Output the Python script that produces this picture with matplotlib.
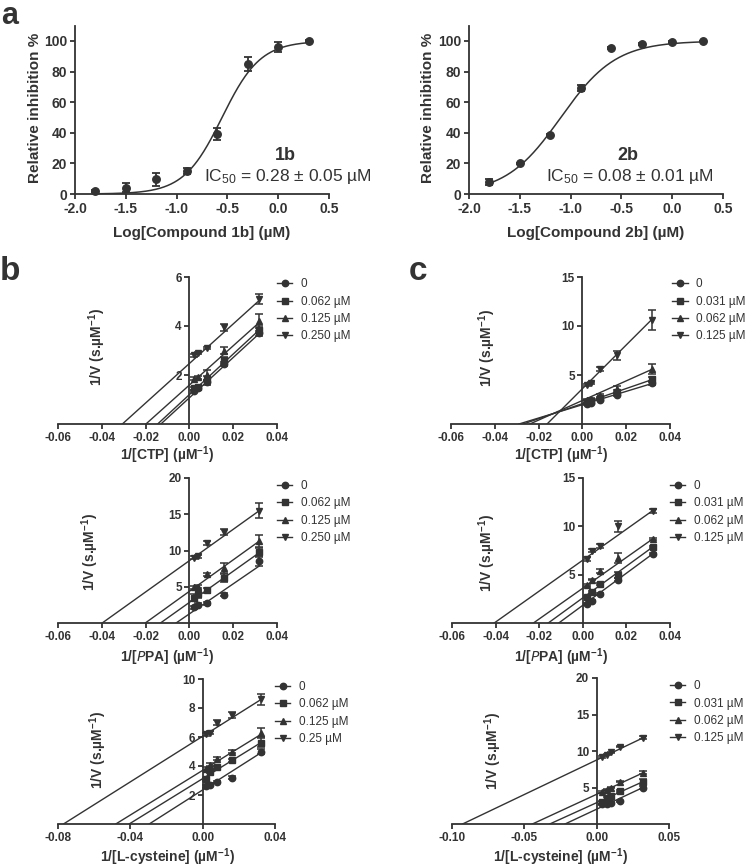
import numpy as np
import matplotlib
matplotlib.use('Agg')
import matplotlib.pyplot as plt
from matplotlib.lines import Line2D

plt.rcParams['font.family'] = ['Liberation Sans', 'DejaVu Sans']
plt.rcParams['mathtext.default'] = 'regular'
plt.rcParams['axes.unicode_minus'] = False
INK = '#333333'

# ---------------- data: panel a (dose-response) ----------------
log_conc = [-1.8, -1.5, -1.2, -0.9, -0.6, -0.3, 0.0, 0.3]
inh_1b = [2.0, 4.0, 9.5, 15.0, 39.0, 85.0, 96.0, 100.0]
err_1b = [0.5, 3.0, 4.0, 2.0, 4.0, 4.5, 3.5, 0.5]
inh_2b = [8.0, 20.0, 38.5, 69.0, 95.5, 98.0, 99.3, 100.0]
err_2b = [2.0, 0.5, 0.5, 2.0, 0.5, 0.5, 0.5, 0.3]
ic50_1b, hill_1b = 0.28, 2.3
ic50_2b, hill_2b = 0.08, 1.6

# ---------------- data: Lineweaver-Burk panels ----------------
inv_s = [0.002, 0.004, 0.008, 0.016, 0.032]
inv_s_cys2b = [0.004, 0.007, 0.010, 0.016, 0.032]
conc_1b = ['0', '0.062 \u00b5M', '0.125 \u00b5M', '0.250 \u00b5M']
conc_1b_cys = ['0', '0.062 \u00b5M', '0.125 \u00b5M', '0.25 \u00b5M']
conc_2b = ['0', '0.031 \u00b5M', '0.062 \u00b5M', '0.125 \u00b5M']

# 1b vs CTP
ctp1b_y = [[1.35, 1.45, 1.70, 2.45, 3.70],
           [1.45, 1.50, 1.85, 2.60, 3.85],
           [1.85, 1.90, 2.00, 3.00, 4.20],
           [2.80, 2.90, 3.10, 3.95, 5.10]]
ctp1b_e = [[0.05, 0.05, 0.10, 0.10, 0.10],
           [0.05, 0.05, 0.10, 0.15, 0.15],
           [0.05, 0.05, 0.20, 0.15, 0.30],
           [0.05, 0.05, 0.05, 0.15, 0.22]]
ctp1b_slope = [82.2, 82.8, 80.1, 80.7]
ctp1b_yint = [1.07, 1.20, 1.59, 2.47]

# 2b vs CTP
ctp2b_y = [[2.05, 2.10, 2.50, 3.00, 4.15],
           [2.20, 2.30, 2.70, 3.30, 4.55],
           [2.50, 2.60, 2.90, 3.60, 5.60],
           [4.00, 4.20, 5.60, 7.00, 10.60]]
ctp2b_e = [[0.10, 0.10, 0.10, 0.10, 0.15],
           [0.10, 0.10, 0.10, 0.15, 0.20],
           [0.10, 0.10, 0.20, 0.30, 0.50],
           [0.10, 0.10, 0.20, 0.50, 1.00]]
ctp2b_slope = [68.0, 77.0, 100.0, 223.0]
ctp2b_yint = [1.97, 2.08, 2.40, 3.60]

# 1b vs PPA
ppa1b_y = [[2.2, 2.5, 2.7, 3.9, 8.5],
           [3.5, 4.0, 4.5, 6.2, 9.8],
           [4.9, 5.0, 6.7, 7.6, 11.3],
           [9.0, 9.2, 11.0, 12.6, 15.5]]
ppa1b_e = [[0.2, 0.2, 0.2, 0.2, 0.6],
           [0.5, 0.5, 0.3, 0.5, 0.6],
           [0.2, 0.2, 0.2, 0.7, 0.8],
           [0.2, 0.2, 0.3, 0.4, 1.0]]
ppa1b_slope = [207.0, 215.0, 217.0, 216.0]
ppa1b_yint = [1.26, 2.84, 4.37, 8.60]

# 2b vs PPA
ppa2b_y = [[2.0, 2.3, 3.0, 4.5, 7.15],
           [2.7, 3.2, 4.0, 5.0, 7.9],
           [3.9, 4.5, 5.4, 6.7, 8.7],
           [6.6, 7.5, 8.0, 10.0, 11.6]]
ppa2b_e = [[0.1, 0.1, 0.1, 0.2, 0.1],
           [0.1, 0.1, 0.1, 0.3, 0.1],
           [0.1, 0.1, 0.2, 0.5, 0.1],
           [0.2, 0.2, 0.2, 0.6, 0.2]]
ppa2b_slope = [166.0, 164.0, 159.0, 160.0]
ppa2b_yint = [1.83, 2.60, 3.60, 6.50]

# 1b vs L-cysteine
cys1b_y = [[2.6, 2.7, 2.9, 3.2, 5.0],
           [3.1, 3.6, 3.9, 4.4, 5.6],
           [3.8, 4.1, 4.5, 5.0, 6.3],
           [6.2, 6.3, 7.0, 7.5, 8.6]]
cys1b_e = [[0.1, 0.1, 0.1, 0.1, 0.2],
           [0.1, 0.1, 0.1, 0.1, 0.3],
           [0.1, 0.1, 0.1, 0.1, 0.3],
           [0.1, 0.1, 0.15, 0.2, 0.4]]
cys1b_slope = [79.5, 77.0, 77.0, 78.6]
cys1b_yint = [2.35, 3.13, 3.70, 6.05]

# 2b vs L-cysteine
cys2b_y = [[2.7, 2.7, 2.9, 3.1, 5.0],
           [3.0, 3.5, 3.9, 4.5, 5.8],
           [4.4, 4.7, 5.0, 5.8, 7.0],
           [9.2, 9.5, 9.8, 10.6, 11.8]]
cys2b_e = [[0.1, 0.1, 0.1, 0.1, 0.2],
           [0.2, 0.2, 0.2, 0.1, 0.3],
           [0.1, 0.1, 0.1, 0.1, 0.2],
           [0.1, 0.1, 0.1, 0.1, 0.2]]
cys2b_slope = [92.8, 90.0, 91.6, 94.6]
cys2b_yint = [2.03, 2.92, 4.07, 8.77]

MARKERS = ['o', 's', '^', 'v']

# ---------------- layout helpers ----------------
W, H = 749, 868
fig = plt.figure(figsize=(W / 100, H / 100), dpi=100)


def rect(x0, x1, yb, yt):
    return [x0 / W, 1 - yb / H, (x1 - x0) / W, (yb - yt) / H]


def ftext(x, y, s, **kw):
    kw.setdefault('color', INK)
    return fig.text(x / W, 1 - y / H, s, **kw)


def style(ax, ticksize):
    for s in ['top', 'right']:
        ax.spines[s].set_visible(False)
    for s in ['left', 'bottom']:
        ax.spines[s].set_color(INK)
        ax.spines[s].set_linewidth(1.3)
    ax.tick_params(colors=INK, width=1.3, length=3.5, pad=2, labelsize=ticksize)
    ax.patch.set_alpha(0)


# ---------------- panel a ----------------
def dose_panel(r, yvals, yerr, ic50, hill):
    ax = fig.add_axes(rect(*r))
    xc = np.linspace(-1.8, 0.3, 300)
    yc = 100.0 / (1 + 10 ** ((np.log10(ic50) - xc) * hill))
    ax.plot(xc, yc, color=INK, lw=1.1, zorder=2)
    ax.errorbar(log_conc, yvals, yerr=yerr, fmt='o', ms=5.4, color=INK,
                ecolor=INK, elinewidth=1.3, capsize=3.2, capthick=1.3, zorder=3,
                clip_on=False)
    ax.set_xlim(-2.0, 0.5)
    ax.set_ylim(0, 110)
    xt = [-2.0, -1.5, -1.0, -0.5, 0.0, 0.5]
    ax.set_xticks(xt, ['%.1f' % v for v in xt], fontweight='bold')
    yt = [0, 20, 40, 60, 80, 100]
    ax.set_yticks(yt, [str(v) for v in yt], fontweight='bold')
    style(ax, 10)
    return ax


dose_panel((75, 329, 194, 25.7), inh_1b, err_1b, ic50_1b, hill_1b)
dose_panel((469, 723, 194, 25.7), inh_2b, err_2b, ic50_2b, hill_2b)

ftext(35, 108, 'Relative inhibition %', rotation=90, ha='center', va='center',
      fontsize=11, fontweight='bold')
ftext(428, 108, 'Relative inhibition %', rotation=90, ha='center', va='center',
      fontsize=11, fontweight='bold')
ftext(202, 233, 'Log[Compound 1b] (\u00b5M)', ha='center', va='center',
      fontsize=11, fontweight='bold')
ftext(596, 233, 'Log[Compound 2b] (\u00b5M)', ha='center', va='center',
      fontsize=11, fontweight='bold')
ftext(285, 156, '1b', ha='center', va='center', fontsize=13, fontweight='bold')
ftext(288, 177, 'IC$_{50}$ = 0.28 \u00b1 0.05 \u00b5M', ha='center', va='center',
      fontsize=12.5)
ftext(628, 156, '2b', ha='center', va='center', fontsize=13, fontweight='bold')
ftext(630, 177, 'IC$_{50}$ = 0.08 \u00b1 0.01 \u00b5M', ha='center', va='center',
      fontsize=12.5)

ftext(1, 0.5, 'a', ha='left', va='top', fontsize=22, fontweight='bold')
ftext(0, 280, 'b', ha='left', va='baseline', fontsize=24, fontweight='bold')
ftext(409, 280, 'c', ha='left', va='baseline', fontsize=24, fontweight='bold')


# ---------------- Lineweaver-Burk panels ----------------
def lb_panel(r, xs, ys, es, slopes, yints, xlim, xticks, ylim, yticks, labels,
             leg_x, leg_y, xlabel, xlab_pos, ylab_pos):
    ax = fig.add_axes(rect(*r))
    xend = 0.032
    for i in range(4):
        x0 = -yints[i] / slopes[i]
        xl = np.array([x0, xend])
        ax.plot(xl, yints[i] + slopes[i] * xl, color=INK, lw=1.0, zorder=2)
        ax.errorbar(xs, ys[i], yerr=es[i], fmt=MARKERS[i], ms=4.6, color=INK,
                    ecolor=INK, elinewidth=1.1, capsize=2.6, capthick=1.1, zorder=3)
    ax.set_xlim(*xlim)
    ax.set_ylim(*ylim)
    ax.spines['left'].set_position(('data', 0))
    ax.set_xticks(xticks, ['%.2f' % v if v != 0 else '0.00' for v in xticks],
                  fontweight='bold')
    ax.set_yticks(yticks, [str(v) for v in yticks], fontweight='bold')
    style(ax, 8.5)
    handles = [Line2D([0], [0], color=INK, lw=1.0, marker=m, ms=4.6) for m in MARKERS]
    ax.legend(handles, labels, loc='upper left', bbox_to_anchor=(leg_x, leg_y),
              frameon=False, fontsize=8.5, handlelength=1.3, handletextpad=0.7,
              labelspacing=0.45, borderpad=0, borderaxespad=0, labelcolor=INK)
    ftext(xlab_pos[0], xlab_pos[1], xlabel, ha='center', va='center',
          fontsize=10, fontweight='bold')
    ftext(ylab_pos[0], ylab_pos[1], '1/V (s.\u00b5M$^{-1}$)', rotation=90,
          ha='center', va='center', fontsize=10, fontweight='bold')
    return ax


xt6 = [-0.06, -0.04, -0.02, 0.0, 0.02, 0.04]
lb_panel((58, 277, 424, 277), inv_s, ctp1b_y, ctp1b_e, ctp1b_slope, ctp1b_yint,
         (-0.06, 0.04), xt6, (0, 6), [2, 4, 6], conc_1b, 1.0, 0.99,
         '1/[CTP] (\u00b5M$^{-1}$)', (167, 455), (97, 347))
lb_panel((451, 670, 424, 277), inv_s, ctp2b_y, ctp2b_e, ctp2b_slope, ctp2b_yint,
         (-0.06, 0.04), xt6, (0, 15), [5, 10, 15], conc_2b, 1.01, 0.99,
         '1/[CTP] (\u00b5M$^{-1}$)', (561, 455), (487, 348))
lb_panel((58, 277, 623, 478), inv_s, ppa1b_y, ppa1b_e, ppa1b_slope, ppa1b_yint,
         (-0.06, 0.04), xt6, (0, 20), [5, 10, 15, 20], conc_1b, 1.0, 0.985,
         '1/[$\\it{P}$PA] (\u00b5M$^{-1}$)', (167, 657), (90, 552))
lb_panel((452, 670, 623, 478), inv_s, ppa2b_y, ppa2b_e, ppa2b_slope, ppa2b_yint,
         (-0.06, 0.04), xt6, (0, 15), [5, 10, 15], conc_2b, 1.0, 0.985,
         '1/[$\\it{P}$PA] (\u00b5M$^{-1}$)', (561, 657), (487, 553))
lb_panel((58, 275, 824, 679), inv_s, cys1b_y, cys1b_e, cys1b_slope, cys1b_yint,
         (-0.08, 0.04), [-0.08, -0.04, 0.0, 0.04], (0, 10), [2, 4, 6, 8, 10],
         conc_1b_cys, 1.0, 0.985,
         '1/[L-cysteine] (\u00b5M$^{-1}$)', (167, 857), (98, 750))
lb_panel((452, 669, 824, 678), inv_s_cys2b, cys2b_y, cys2b_e, cys2b_slope, cys2b_yint,
         (-0.10, 0.05), [-0.10, -0.05, 0.0, 0.05], (0, 20), [5, 10, 15, 20],
         conc_2b, 1.005, 0.985,
         '1/[L-cysteine] (\u00b5M$^{-1}$)', (560, 857), (493, 751))

fig.savefig('out.png', dpi=100)
